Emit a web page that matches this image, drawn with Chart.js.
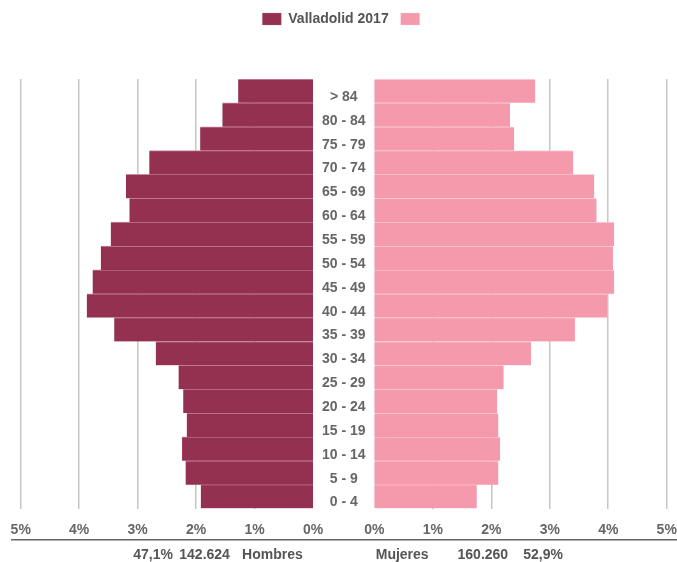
<!DOCTYPE html>
<html>
<head>
<meta charset="utf-8">
<script src="https://cdn.jsdelivr.net/npm/chart.js@4.4.1/dist/chart.umd.min.js"></script>
<style>
  body { margin: 0; background: #fff; }
  #caja { width: 677px; height: 562px; }
</style>
</head>
<body>
<div id="caja"><canvas id="piramide"></canvas></div>
<script>
// grupos de edad, de menor a mayor
const edades = ['0 - 4', '5 - 9', '10 - 14', '15 - 19', '20 - 24', '25 - 29', '30 - 34', '35 - 39', '40 - 44',
  '45 - 49', '50 - 54', '55 - 59', '60 - 64', '65 - 69', '70 - 74', '75 - 79', '80 - 84', '> 84']
// % sobre la poblacion total
const hombres = [1.92, 2.18, 2.24, 2.16, 2.22, 2.30, 2.69, 3.40, 3.87, 3.77, 3.63, 3.46, 3.14, 3.20, 2.80, 1.93, 1.55, 1.28]
const mujeres = [1.75, 2.12, 2.15, 2.12, 2.10, 2.21, 2.68, 3.43, 3.98, 4.10, 4.08, 4.10, 3.80, 3.76, 3.40, 2.39, 2.32, 2.75]
const porcentajes = [0, 1, 2, 3, 4, 5]
const textosPie = ['47,1%', '142.624', 'Hombres', 'Mujeres', '160.260', '52,9%']
const serieNombre = 'Valladolid 2017'

const hueco = 0.525 // medio hueco central, en unidades del eje

Chart.defaults.font.family = 'Liberation Sans, Arial, sans-serif'
Chart.defaults.font.size = 14
Chart.defaults.font.weight = 'bold'
Chart.defaults.color = '#666'

// deja sitio entre la leyenda y las barras
const espacioLeyenda = {
  id: 'espacioLeyenda',
  beforeInit(chart) {
    const fitOrig = chart.legend.fit
    chart.legend.fit = function () {
      fitOrig.call(this)
      this.height += 43
    }
  }
}

// ejes de abajo: alto fijo y sin margen lateral
const ajusteX = alto => scale => {
  scale.height = alto
  scale.paddingLeft = 0
  scale.paddingRight = 0
}

new Chart(document.getElementById('piramide'), {
  type: 'bar',
  data: {
    labels: edades,
    datasets: [
      {
        label: serieNombre,
        data: hombres.map(v => [-hueco - v, -hueco]),
        backgroundColor: '#953150',
        borderColor: '#c88a9d',
        borderWidth: { top: 1, right: 0, bottom: 0, left: 0 },
        borderSkipped: false
      },
      {
        label: '',
        data: mujeres.map(v => [hueco, hueco + v]),
        backgroundColor: '#f59aac',
        borderColor: '#fbd3db',
        borderWidth: { top: 1, right: 0, bottom: 0, left: 0 },
        borderSkipped: false
      }
    ]
  },
  options: {
    indexAxis: 'y',
    responsive: true,
    maintainAspectRatio: false,
    animation: false,
    layout: { padding: { left: 12, right: 0, top: 0, bottom: 0 } },
    datasets: { bar: { barPercentage: 1, categoryPercentage: 1, grouped: false } },
    plugins: {
      legend: {
        labels: { boxWidth: 19, boxHeight: 12, padding: 12, color: '#555', font: { size: 14, weight: 'bold' } }
      },
      tooltip: { enabled: false }
    },
    scales: {
      x: {
        type: 'linear',
        position: 'bottom',
        min: -5.674,
        max: 5.701,
        afterBuildTicks: scale => {
          const izq = porcentajes.slice().reverse().map(p => ({ value: -hueco - p }))
          const der = porcentajes.map(p => ({ value: hueco + p }))
          scale.ticks = izq.concat(der)
        },
        afterFit: ajusteX(31),
        grid: {
          drawTicks: false,
          lineWidth: 1.5,
          color: ctx => (ctx.tick && Math.abs(Math.abs(ctx.tick.value) - hueco) < 0.01) ? 'rgba(0,0,0,0)' : '#c6c6c6'
        },
        border: { display: false },
        ticks: {
          autoSkip: false,
          maxRotation: 0,
          padding: 13,
          color: '#666',
          callback: v => Math.round(Math.abs(v) - hueco) + '%'
        }
      },
      pie: {
        type: 'linear',
        position: 'bottom',
        min: -5.674,
        max: 5.701,
        afterBuildTicks: scale => {
          const sitios = [-3.26, -2.38, -1.22, 1.00, 2.38, 3.41]
          scale.ticks = sitios.map(v => ({ value: v }))
        },
        afterFit: ajusteX(22.5),
        grid: { display: false, drawTicks: false },
        border: { display: true, color: '#666', width: 1.5 },
        ticks: {
          autoSkip: false,
          maxRotation: 0,
          padding: 7,
          color: '#555',
          callback: (v, i) => textosPie[i]
        }
      },
      y: {
        type: 'category',
        position: 'left',
        reverse: true,
        grid: { display: false, drawTicks: false },
        border: { display: false },
        // etiquetas dentro del area, centradas en el hueco
        afterFit: scale => {
          scale.width = 0
          scale.paddingTop = 0
          scale.paddingBottom = 0
        },
        ticks: {
          mirror: true,
          crossAlign: 'center',
          padding: 310,
          labelOffset: 6,
          color: '#666'
        }
      }
    }
  },
  plugins: [espacioLeyenda]
})
</script>
</body>
</html>
